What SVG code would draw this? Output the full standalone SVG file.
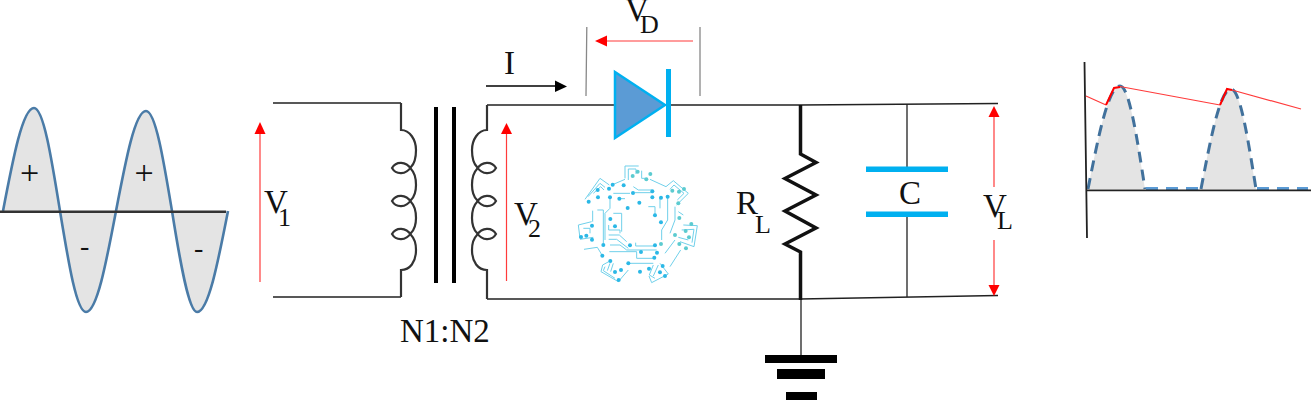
<svg xmlns="http://www.w3.org/2000/svg" width="1313" height="400" viewBox="0 0 1313 400">
<style>
text{font-family:"Liberation Serif","Times New Roman",serif;fill:#111}
.w{fill:none;stroke:#222;stroke-width:1.3}
.g{fill:none;stroke:#333;stroke-width:2.200}
.r{stroke:#ff3b3b;stroke-width:1.200;fill:none}
.rh{fill:#f00}
.k{fill:#000}
.c{fill:#00b0f0}
.t{font-size:33px}
.s{font-size:26px}
.p{font-size:34px;text-anchor:middle}
.m{font-size:28px;text-anchor:middle}
.cl{fill:none;stroke:#6fd0ea;stroke-width:3}
.d1{fill:#2bb8e6}
.d2{fill:#5ccbd0}
</style>
<g id="input-wave">
<path d="M3 211C13.100 158.200 22.700 108 34 108C43.500 108 51.500 158.200 60 211C68.500 262.700 76.500 312 86 312C96.900 312 106.200 262.700 116 211C125.800 159.800 135.100 111 146 111C155.500 111 163.500 159.800 172 211C180.200 262.700 188.900 312 197 312C208.300 312 217.900 262.700 228 211Z" fill="#e4e4e4"/>
<path d="M3 211C13.100 158.200 22.700 108 34 108C43.500 108 51.500 158.200 60 211C68.500 262.700 76.500 312 86 312C96.900 312 106.200 262.700 116 211C125.800 159.800 135.100 111 146 111C155.500 111 163.500 159.800 172 211C180.200 262.700 188.900 312 197 312C208.300 312 217.900 262.700 228 211" fill="none" stroke="#4a7ba7" stroke-width="2.600"/>
<path d="M0 211.700H226" stroke="#333" stroke-width="2.400"/>
<text class="p" x="29.500" y="184">+</text><text class="p" x="144" y="184">+</text>
<text class="m" x="84.700" y="255">-</text><text class="m" x="198.700" y="257">-</text>
</g>
<g id="connectors">
<path class="w" d="M273 103H401M273 297H401"/>
<path class="w" d="M487 105H800L998 103.500"/>
<path class="w" d="M487 299H800L998 295.500"/>
<path class="w" d="M907 104V169M907 215V297M801 299V356"/>
<path d="M586.800 27L586 96M700 27V96" fill="none" stroke="#888" stroke-width="1.300"/>
<path d="M486 86H557" stroke="#000" stroke-width="1.300"/><path class="k" d="M555 80.500L567 86.500L555 92Z"/>
</g>
<g id="primary-coil"><path class="g" d="M401 103V130C410 130 416 140 416 150C416 160 414 164 411 167C406 175 396 175 392 168C396 161 406 161 411 169C414 172 416 176 416 185C416 193 414 197 411 200C406 208 396 208 392 201C396 194 406 194 411 202C414 205 416 209 416 218C416 226 414 230 411 233C406 241 396 241 392 234C396 227 406 227 411 235C414 238 416 242 416 250C416 262 410 270 401 270V297"/></g>
<g id="core"><rect class="k" x="434" y="107" width="4" height="176"/><rect class="k" x="452" y="107" width="4" height="176"/></g>
<g id="secondary-coil"><path class="g" d="M487 105V130C478 130 472 140 472 150C472 160 474 164 477 167C482 175 492 175 496 168C492 161 482 161 477 169C474 172 472 176 472 185C472 193 474 197 477 200C482 208 492 208 496 201C492 194 482 194 477 202C474 205 472 209 472 218C472 226 474 230 477 233C482 241 492 241 496 234C492 227 482 227 477 235C474 238 472 242 472 250C472 262 478 270 487 270V299"/></g>
<g id="diode"><path d="M615 72L665 105L615 138Z" fill="#5b9bd5" stroke="#00b0f0" stroke-width="2.500"/><rect class="c" x="666" y="69" width="5" height="68"/></g>
<g id="resistor"><path d="M800.500 105V154L816 162.500L785 178.500L816 195L785 211L816 228L785 244L800.500 252V300" fill="none" stroke="#111" stroke-width="3.500"/></g>
<g id="capacitor"><rect class="c" x="866" y="166.500" width="82" height="5.500"/><rect class="c" x="866" y="211.500" width="82" height="5.500"/></g>
<g id="ground"><rect class="k" x="765" y="355" width="72" height="8"/><rect class="k" x="777" y="369" width="48" height="10"/><rect class="k" x="786" y="392" width="31" height="8"/></g>
<g id="v1-arrow"><path class="r" d="M260 282V130"/><path class="rh" d="M254.500 134L260 122L265.500 134Z"/></g>
<g id="v2-arrow"><path class="r" d="M506.500 281V130"/><path class="rh" d="M501 134L506.500 123L512 134Z"/></g>
<g id="vd-arrow"><path class="r" d="M693 41H603"/><path class="rh" d="M595 41L607 35.500V46.500Z"/></g>
<g id="vl-arrow"><path class="r" d="M994 187V112M994 240V290"/><path class="rh" d="M988.500 117L994 106L999.500 117Z"/><path class="rh" d="M988.500 285L994 296L999.500 285Z"/></g>
<g id="labels">
<text class="t" x="504" y="74">I</text>
<text class="t" x="625" y="21">V</text><text class="s" x="640" y="33">D</text>
<text class="t" x="264" y="213">V</text><text class="s" x="278" y="226">1</text>
<text class="t" x="514" y="225">V</text><text class="s" x="528" y="237">2</text>
<text class="t" x="400" y="342">N1:N2</text>
<text class="t" x="736" y="214">R</text><text class="s" x="755" y="233">L</text>
<text class="t" x="899" y="204">C</text>
<text class="t" x="983" y="217">V</text><text class="s" x="997" y="229">L</text>
</g>
<g id="circuit-logo" transform="translate(560 150) scale(.3333)">
<path class="cl" d="M195 85V48H236M205 90V57H228V72M245 62V85H256M160 103L195 88M270 88L318 110M75 148L120 85L148 105M84 140L120 100L135 112M100 130L122 110L132 120M318 110L340 92L385 130L350 165M330 118L342 105L372 130L352 150M370 225L412 227L402 290L360 275M365 240L402 238L396 278M355 262L385 270M55 225L95 215M55 225L60 265M70 235H90V250M60 268L100 262M72 298L112 292L127 317M98 182V215M150 333L128 345L123 365L175 395L205 360M135 350L130 362L165 385M150 340L142 362M160 340L152 365M267 378L275 398L325 372L300 340M280 345L268 375L285 385M295 345L280 378M112 180H130V280M150 142V175L135 190V270M160 130H210M178 146H195M220 110L235 120H275M225 128H280M300 143V175M323 140V210L305 240V270M160 190H185V245M146 225V240H180V250M146 255H178L200 275M146 268H170L205 295M150 285H180L200 300H290M148 305H230V325H280M205 340H280M227 278V288H285M265 170H285V196M345 170V210L330 250M315 310L345 270M330 350L362 300M355 185L370 195"/>
<g class="d1"><circle cx="158" cy="104" r="6"/><circle cx="147" cy="116" r="6"/><circle cx="191" cy="106" r="6"/><circle cx="113" cy="120" r="6"/><circle cx="114" cy="142" r="6"/><circle cx="86" cy="155" r="6"/><circle cx="150" cy="142" r="6"/><circle cx="178" cy="146" r="6"/><circle cx="219" cy="129" r="6"/><circle cx="238" cy="158" r="6"/><circle cx="203" cy="174" r="6"/><circle cx="277" cy="124" r="6"/><circle cx="277" cy="142" r="6"/><circle cx="303" cy="143" r="6"/><circle cx="323" cy="140" r="6"/><circle cx="285" cy="196" r="6"/><circle cx="303" cy="217" r="6"/><circle cx="151" cy="207" r="6"/><circle cx="165" cy="229" r="6"/><circle cx="96" cy="227" r="6"/><circle cx="79" cy="257" r="6"/><circle cx="63" cy="261" r="6"/><circle cx="96" cy="269" r="6"/><circle cx="130" cy="285" r="6"/><circle cx="127" cy="317" r="6"/><circle cx="210" cy="286" r="6"/><circle cx="243" cy="306" r="6"/><circle cx="285" cy="286" r="6"/><circle cx="291" cy="308" r="6"/><circle cx="283" cy="323" r="6"/><circle cx="151" cy="333" r="6"/><circle cx="205" cy="340" r="6"/><circle cx="240" cy="365" r="6"/><circle cx="267" cy="356" r="6"/><circle cx="308" cy="348" r="6"/><circle cx="300" cy="367" r="6"/><circle cx="315" cy="378" r="6"/><circle cx="183" cy="360" r="6"/><circle cx="165" cy="366" r="6"/><circle cx="176" cy="390" r="6"/></g>
<g class="d2"><circle cx="218" cy="78" r="6"/><circle cx="233" cy="65" r="6"/><circle cx="259" cy="88" r="6"/><circle cx="271" cy="72" r="6"/><circle cx="337" cy="122" r="6"/><circle cx="357" cy="125" r="6"/><circle cx="372" cy="117" r="6"/><circle cx="355" cy="160" r="6"/><circle cx="358" cy="204" r="6"/><circle cx="394" cy="222" r="6"/><circle cx="377" cy="243" r="6"/><circle cx="387" cy="262" r="6"/><circle cx="345" cy="255" r="6"/><circle cx="358" cy="282" r="6"/><circle cx="378" cy="295" r="6"/><circle cx="303" cy="282" r="6"/></g>
</g>
<g id="output-wave">
<path d="M1088 189C1098.400 136.200 1108.300 86 1120 86C1129.100 86 1136.800 136.200 1145 189ZM1201 189C1210.800 137.800 1220.100 89 1231 89C1240.100 89 1247.800 137.800 1256 189Z" fill="#e4e4e4"/>
<path d="M1088 189C1098.400 136.200 1108.300 86 1120 86C1129.100 86 1136.800 136.200 1145 189M1201 189C1210.800 137.800 1220.100 89 1231 89C1240.100 89 1247.800 137.800 1256 189" fill="none" stroke="#41719c" stroke-width="3" stroke-dasharray="11 7"/>
<path d="M1146 188.500H1200M1257 188.500H1308" fill="none" stroke="#5b9bd5" stroke-width="3" stroke-dasharray="12 8"/>
<path d="M1084.500 62L1087 238M1087 190.300H1311" fill="none" stroke="#222" stroke-width="1.800"/>
<path d="M1086 96L1106 105M1120 86.500L1220 105M1232 90L1301 109" fill="none" stroke="#ff3b3b" stroke-width="1.200"/>
<path d="M1106 105L1114 88L1120 87M1220 105L1227 89L1232 90" fill="none" stroke="#f00" stroke-width="2"/>
</g>
</svg>
